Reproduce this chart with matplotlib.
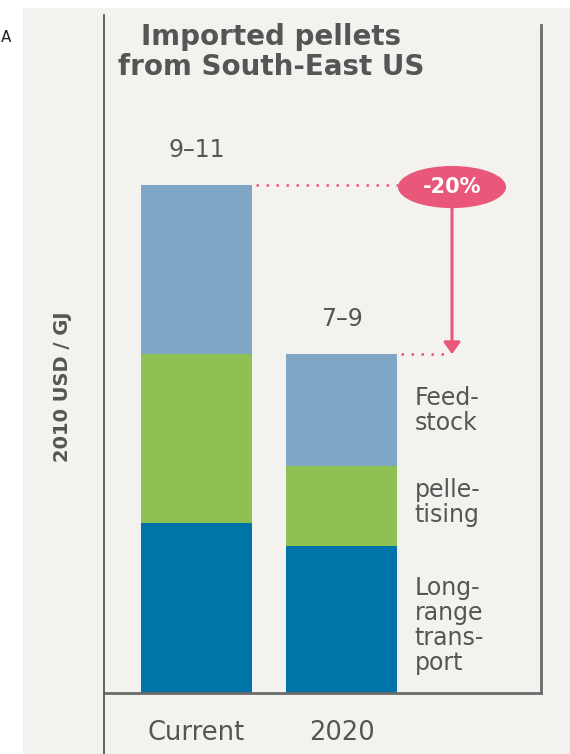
import matplotlib.pyplot as plt
import numpy as np
from matplotlib.patches import Ellipse, Rectangle
from matplotlib.lines import Line2D

# data (arbitrary units)
categories = ["Current", "2020"]
transport = [3.35, 2.9]
pelletising = [3.33, 1.57]
feedstock = [3.32, 2.2]
range_labels = ["9\u201311", "7\u20139"]
part_labels = ["Feed-\nstock", "pelle-\ntising", "Long-\nrange\ntrans-\nport"]
change_label = "-20%"

c_dark = "#0073a9"
c_green = "#8fc152"
c_light = "#7fa5c7"
c_pink = "#e9587a"
c_text = "#555555"
bg = "#f3f2ef"

W, H = 570, 754
fig = plt.figure(figsize=(W / 100, H / 100), dpi=100)
fig.patch.set_facecolor("white")
fig.add_artist(Rectangle((23 / W, 0), 1, (H - 8) / H, transform=fig.transFigure,
                         facecolor=bg, edgecolor="none", zorder=0))

ax = fig.add_axes([104.5 / W, (H - 693) / H, 436 / W, 668 / H])
ax.set_facecolor("none")
for s in ["top", "left"]:
    ax.spines[s].set_visible(False)
ax.spines["right"].set_color("#6b6b6b")
ax.spines["right"].set_linewidth(2)
ax.spines["bottom"].set_color("#6b6b6b")
ax.spines["bottom"].set_linewidth(2)

x = np.arange(len(categories))
w = 0.766
ax.bar(x, transport, w, color=c_dark, zorder=2)
ax.bar(x, pelletising, w, bottom=transport, color=c_green, zorder=2)
b2 = np.array(transport) + np.array(pelletising)
ax.bar(x, feedstock, w, bottom=b2, color=c_light, zorder=2)
totals = b2 + np.array(feedstock)

ax.set_xlim(-0.634, 2.372)
ax.set_ylim(0, 13.15)
ax.set_xticks([])
ax.set_yticks([])

for xi, t, lab in zip(x, totals, range_labels):
    ax.text(xi, t + 0.45, lab, ha="center", va="bottom", fontsize=17, color=c_text)

# -20% marker
ex, ey = 1.762, totals[0] - 0.04
ax.add_patch(Ellipse((ex, ey), 0.745, 0.83, facecolor=c_pink, edgecolor="none", zorder=3))
ax.text(ex, ey, change_label, ha="center", va="center", fontsize=15,
        fontweight="bold", color="white", zorder=4)
ax.plot([x[0] + w / 2 + 0.03, ex - 0.37], [totals[0], totals[0]], color=c_pink,
        lw=1.8, linestyle=(0, (1, 3)), zorder=2)
ax.plot([x[1] + w / 2 + 0.03, ex - 0.05], [totals[1], totals[1]], color=c_pink,
        lw=1.8, linestyle=(0, (1, 3)), zorder=2)
ax.annotate("", xy=(ex, totals[1]), xytext=(ex, ey - 0.42),
            arrowprops=dict(arrowstyle="-|>,head_length=0.7,head_width=0.5",
                            color=c_pink, lw=2.2, shrinkA=0, shrinkB=0))

# segment labels to the right of the 2020 bar
tx = x[1] + w / 2 + 0.12
ax.text(tx, b2[1] + feedstock[1] / 2, part_labels[0], va="center", ha="left",
        fontsize=17, color=c_text, linespacing=1.05)
ax.text(tx, transport[1] + pelletising[1] / 2 + 0.06, part_labels[1], va="center", ha="left",
        fontsize=17, color=c_text, linespacing=1.05)
ax.text(tx, transport[1] / 2 - 0.12, part_labels[2], va="center", ha="left",
        fontsize=17, color=c_text, linespacing=1.05)

for xi, lab in zip(x, categories):
    ax.text(xi, -0.78, lab, ha="center", va="center", fontsize=18.5, color=c_text)

fig.text(271 / W, 1 - 52 / H, "Imported pellets\nfrom South-East US", ha="center",
         va="center", fontsize=20, fontweight="bold", color=c_text, linespacing=1.1)
fig.text(62 / W, 1 - 387 / H, "2010 USD / GJ", rotation=90, ha="center", va="center",
         fontsize=14, fontweight="bold", color=c_text)
fig.text(0.5 / W, 1 - 38 / H, "A", ha="left", va="center", fontsize=11, color="#222222")

# left rule running past the axes
fig.add_artist(Line2D([104.5 / W, 104.5 / W], [0, 1 - 15 / H], transform=fig.transFigure,
                      color="#555555", lw=1.3))

fig.savefig("out.png", dpi=100)
